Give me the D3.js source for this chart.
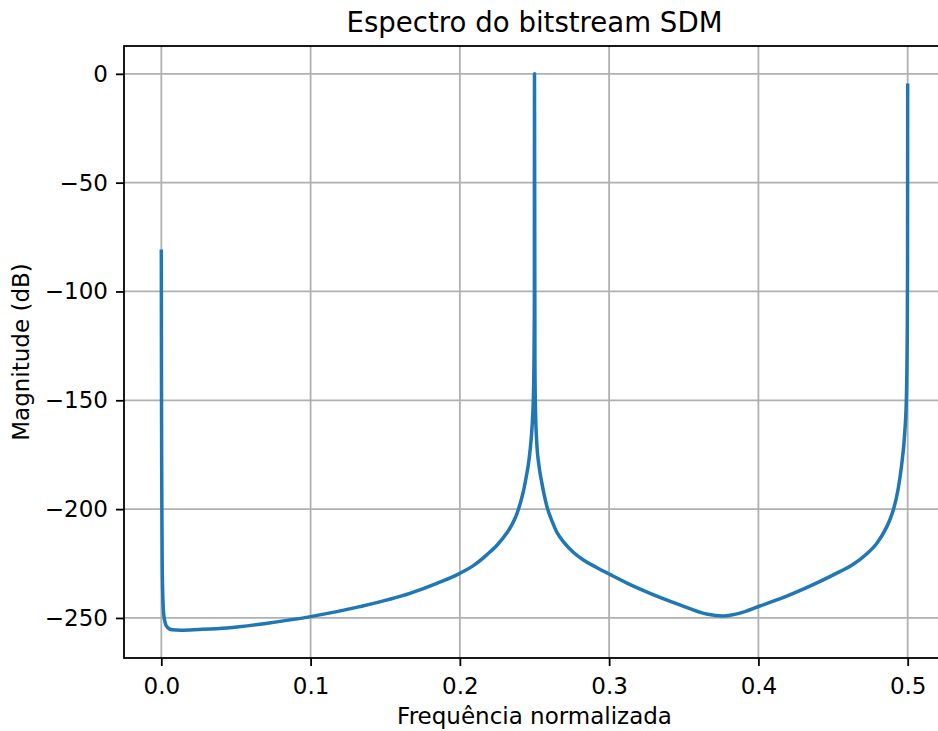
<!DOCTYPE html>
<html lang="pt">
<head>
<meta charset="UTF-8">
<title>Espectro do bitstream SDM</title>
<style>
    body { margin: 0; background: #fff; }
    svg { display: block; font-family: "DejaVu Sans", sans-serif; }
    .grid line { stroke: #b0b0b0; stroke-width: 1.8px; }
    .tick text { font-size: 23px; fill: #000; }
    .tick line { stroke: #000; stroke-width: 1.8px; }
    .line { fill: none; stroke: #1f77b4; stroke-width: 3.5px; stroke-linejoin: round; stroke-linecap: square; }
</style>
</head>
<body>
<svg width="938" height="731"></svg>
<script src="https://d3js.org/d3.v7.min.js"></script>
<script>
// frequencia normalizada
const freq = [
    0.0000, 0.0001, 0.0003, 0.0006, 0.0010, 0.0015, 0.0025, 0.0040, 0.0070, 0.0130,
    0.0250, 0.0440, 0.0700, 0.1000, 0.1330, 0.1670, 0.1850, 0.2000, 0.2100, 0.2180,
    0.2250, 0.2314, 0.2350, 0.2380, 0.2410, 0.2425, 0.2445, 0.2459, 0.2472, 0.2481,
    0.2488, 0.2492, 0.2496, 0.2499, 0.2500, 0.2503, 0.2507, 0.2514, 0.2530, 0.2548,
    0.2582, 0.2620, 0.2649, 0.2700, 0.2760, 0.2830, 0.2916, 0.3005, 0.3120, 0.3250,
    0.3474, 0.3652, 0.3764, 0.3876, 0.4010, 0.4210, 0.4410, 0.4545, 0.4620, 0.4679,
    0.4730, 0.4790, 0.4857, 0.4880, 0.4902, 0.4935, 0.4958, 0.4980, 0.4991, 0.4997,
    0.4999, 0.5000
];
// magnitude em dB
const magDb = [
    -81.5, -140, -190, -225, -240, -247.5, -252, -254.3, -255.4, -255.6,
    -255.3, -254.6, -252.5, -249.4, -244.8, -238.6, -234, -229.5, -225.5, -221,
    -216.5, -211, -207, -202.5, -196, -192, -185, -179.5, -172, -165,
    -157, -150, -135, -110, 0, -135, -155, -168, -180, -187.5,
    -198.5, -206, -210.5, -215.5, -219.8, -223.5, -226.8, -230, -234, -238,
    -244, -248.2, -249.1, -247.8, -244.5, -239.4, -233.3, -228.7, -226, -223.2,
    -220.3, -216, -208.5, -205, -200.8, -191.2, -180.5, -165.1, -149.8, -120,
    -90, -5.3
];
const xTicks = [0, 0.1, 0.2, 0.3, 0.4, 0.5];
const yTicks = [0, -50, -100, -150, -200, -250];

const data = freq.map((f, i) => ({ f: f, m: magDb[i] }));

// area dos eixos (a direita sai fora da figura, como no original)
const axL = 124, axR = 945, axT = 46, axB = 658;

const svg = d3.select("svg");

const x = d3.scaleLinear().domain([-0.025, 0.525]).range([axL, axR]);
const y = d3.scaleLinear().domain([-268.4, 12.78]).range([axB, axT]);

const fmtY = d => (d < 0 ? "\u2212" + Math.abs(d) : "" + d);

// grade
const grid = svg.append("g").attr("class", "grid");
grid.selectAll(".gx").data(xTicks).enter().append("line")
    .attr("x1", d => x(d)).attr("x2", d => x(d))
    .attr("y1", axT).attr("y2", axB);
grid.selectAll(".gy").data(yTicks).enter().append("line")
    .attr("x1", axL).attr("x2", axR)
    .attr("y1", d => y(d)).attr("y2", d => y(d));

// curva
const line = d3.line()
    .x(d => x(d.f))
    .y(d => y(d.m))
    .curve(d3.curveMonotoneX);
svg.append("path")
    .datum(data)
    .attr("class", "line")
    .attr("d", line);

// eixos
const xAxis = svg.append("g")
    .attr("transform", "translate(0," + axB + ")")
    .call(d3.axisBottom(x).tickValues(xTicks).tickFormat(d3.format(".1f")).tickSizeInner(8).tickSizeOuter(0).tickPadding(8));
const yAxis = svg.append("g")
    .attr("transform", "translate(" + axL + ",0)")
    .call(d3.axisLeft(y).tickValues(yTicks).tickFormat(fmtY).tickSizeInner(8).tickSizeOuter(0).tickPadding(8));
xAxis.select(".domain").remove();
yAxis.select(".domain").remove();
xAxis.selectAll(".tick text").attr("dy", "0.87em");
svg.selectAll(".tick text").attr("font-family", "DejaVu Sans");

// moldura
svg.append("rect")
    .attr("x", axL).attr("y", axT)
    .attr("width", axR - axL).attr("height", axB - axT)
    .attr("fill", "none").attr("stroke", "#000").attr("stroke-width", 1.8);

// textos
svg.append("text")
    .attr("x", (axL + axR) / 2).attr("y", 32)
    .attr("text-anchor", "middle")
    .style("font-size", "27.6px")
    .text("Espectro do bitstream SDM");

svg.append("text")
    .attr("x", (axL + axR) / 2).attr("y", 724)
    .attr("text-anchor", "middle")
    .style("font-size", "23px")
    .text("Frequência normalizada");

svg.append("text")
    .attr("transform", "translate(29," + (axT + axB) / 2 + ") rotate(-90)")
    .attr("text-anchor", "middle")
    .style("font-size", "23px")
    .text("Magnitude (dB)");
</script>
</body>
</html>
